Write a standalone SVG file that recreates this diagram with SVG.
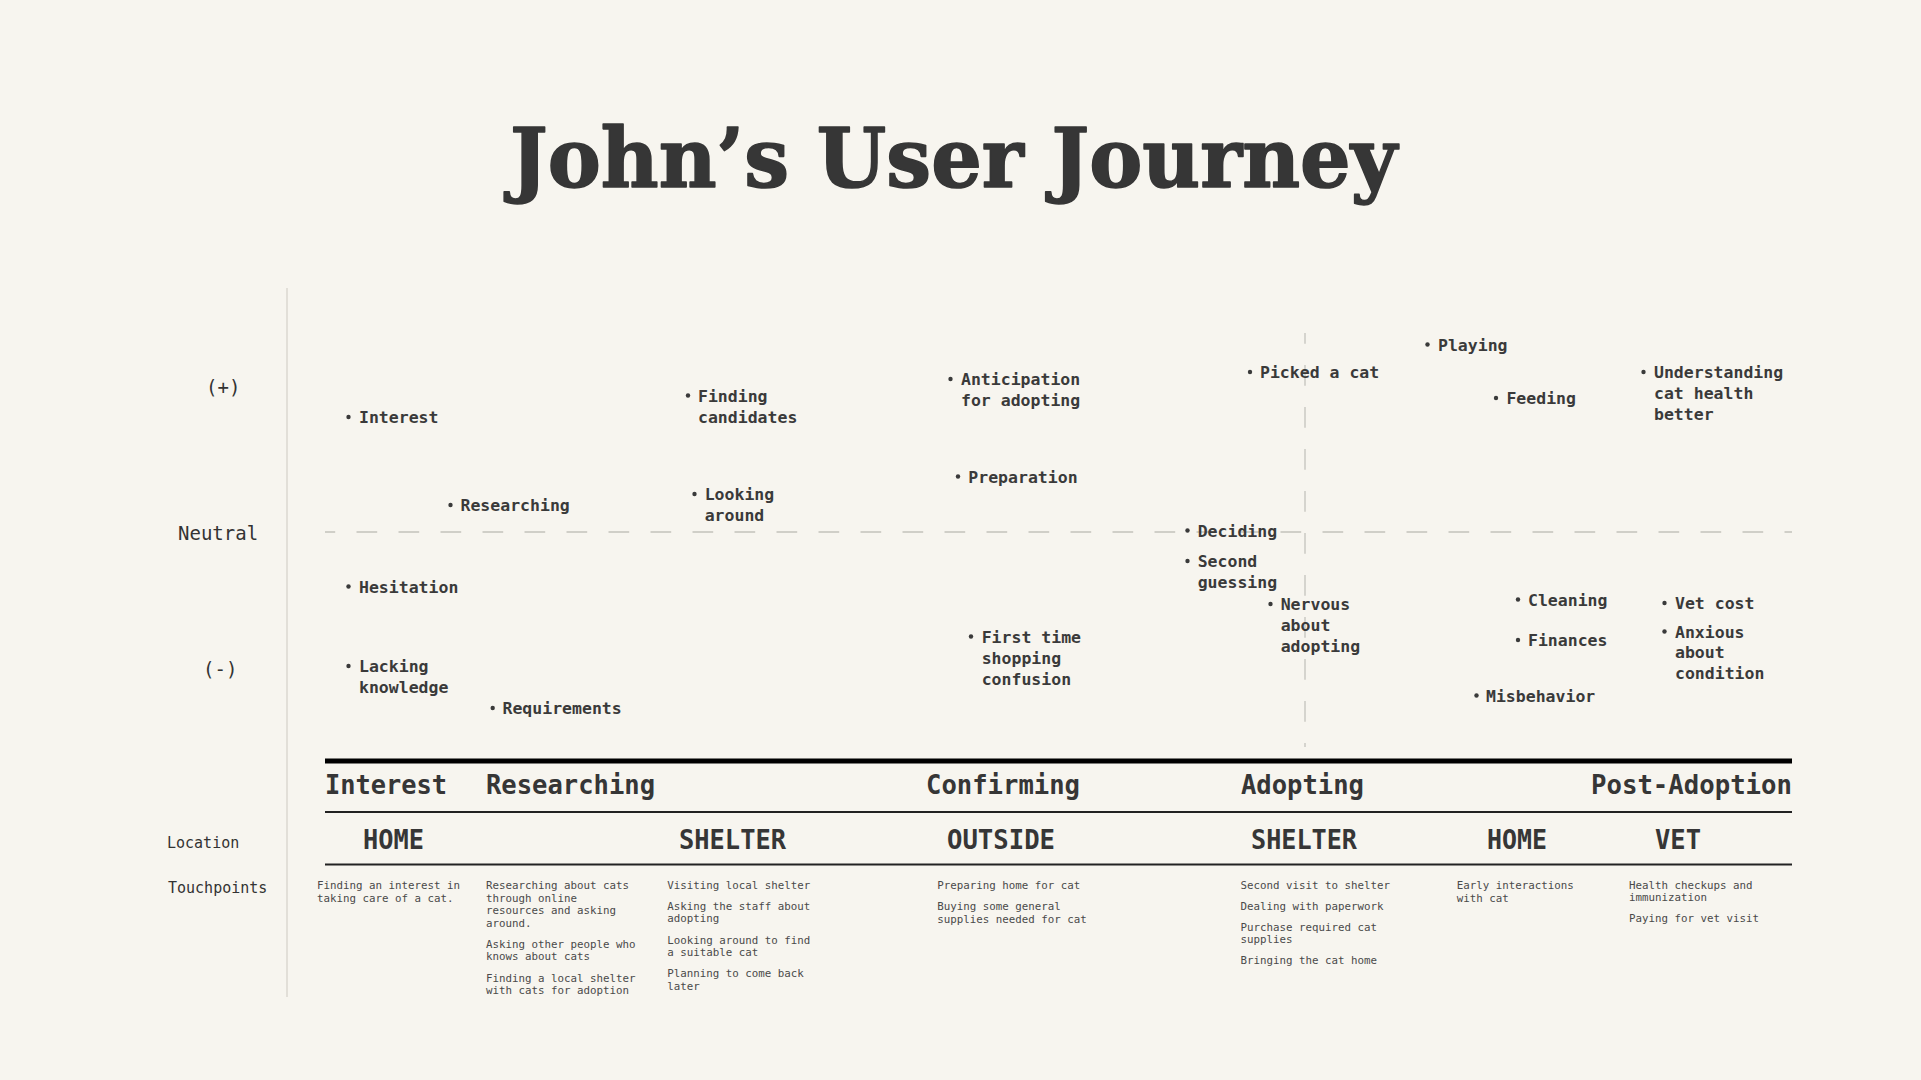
<svg xmlns="http://www.w3.org/2000/svg" width="1921" height="1080" viewBox="0 0 1921 1080">
<style>
.bg{fill:#f7f5ef}
.title{font-family:"DejaVu Serif","Liberation Serif",serif;font-weight:bold;font-size:82px;fill:#363636;stroke:#363636;stroke-width:1.6;stroke-linejoin:round}
.axis{font-family:"DejaVu Sans Mono","Liberation Mono",monospace;font-size:19px;fill:#333}
.side{font-family:"DejaVu Sans Mono","Liberation Mono",monospace;font-size:15px;fill:#333}
.lbl{font-family:"DejaVu Sans Mono","Liberation Mono",monospace;font-size:16.5px;font-weight:bold;fill:#3a3a3a}
.phase{font-family:"DejaVu Sans Mono","Liberation Mono",monospace;font-size:26px;font-weight:bold;fill:#363636}
.loc{font-family:"DejaVu Sans Mono","Liberation Mono",monospace;font-size:26px;font-weight:bold;fill:#363636}
.tp{font-family:"DejaVu Sans Mono","Liberation Mono",monospace;font-size:10.8px;fill:#4a4a4a}
.dot{fill:#3a3a3a}
.grid{stroke:#c4c2bc;stroke-width:1.3;stroke-dasharray:20.7 21.3;fill:none}
</style>
<rect class="bg" x="0" y="0" width="1921" height="1080"/>

<text id="title" class="title" x="510" y="187" textLength="887" lengthAdjust="spacingAndGlyphs">John’s User Journey</text>

<g id="axes">
  <line x1="287" y1="288" x2="287" y2="997" stroke="#e2dfd8" stroke-width="2"/>
  <line class="grid" x1="325" y1="532" x2="1792" y2="532" stroke-dashoffset="10.5"/>
  <line class="grid" x1="1305" y1="333" x2="1305" y2="747" stroke-dashoffset="10"/>
  <text class="axis" x="206" y="394">(+)</text>
  <text class="axis" x="178" y="540">Neutral</text>
  <text class="axis" x="203" y="676">(-)</text>
  <text class="side" x="167" y="848">Location</text>
  <text class="side" x="168" y="893">Touchpoints</text>
</g>

<g id="connectors">
  <line x1="325" y1="761" x2="1792" y2="761" stroke="#000" stroke-width="5"/>
  <line x1="325" y1="812" x2="1792" y2="812" stroke="#222" stroke-width="2"/>
  <line x1="325" y1="864.5" x2="1792" y2="864.5" stroke="#222" stroke-width="2"/>
</g>

<g id="emotions">
  <g id="e-interest"><circle class="dot" cx="348.5" cy="417" r="2.2"/><text class="lbl" x="359" y="423">Interest</text></g>
  <g id="e-researching"><circle class="dot" cx="450.5" cy="505" r="2.2"/><text class="lbl" x="460.5" y="511">Researching</text></g>
  <g id="e-finding"><circle class="dot" cx="688" cy="395.5" r="2.2"/><text class="lbl" x="698" y="401.7">Finding</text><text class="lbl" x="698" y="423">candidates</text></g>
  <g id="e-looking"><circle class="dot" cx="694.5" cy="494" r="2.2"/><text class="lbl" x="704.7" y="500">Looking</text><text class="lbl" x="704.7" y="521">around</text></g>
  <g id="e-hesitation"><circle class="dot" cx="348.5" cy="586.5" r="2.2"/><text class="lbl" x="359" y="592.7">Hesitation</text></g>
  <g id="e-lacking"><circle class="dot" cx="348.5" cy="666" r="2.2"/><text class="lbl" x="359" y="672.3">Lacking</text><text class="lbl" x="359" y="693">knowledge</text></g>
  <g id="e-requirements"><circle class="dot" cx="492.7" cy="708" r="2.2"/><text class="lbl" x="502.5" y="714.3">Requirements</text></g>
  <g id="e-anticipation"><circle class="dot" cx="950.5" cy="379" r="2.2"/><text class="lbl" x="961" y="385">Anticipation</text><text class="lbl" x="961" y="406">for adopting</text></g>
  <g id="e-preparation"><circle class="dot" cx="958" cy="476.5" r="2.2"/><text class="lbl" x="968.3" y="482.7">Preparation</text></g>
  <g id="e-firsttime"><circle class="dot" cx="971" cy="636.5" r="2.2"/><text class="lbl" x="981.7" y="642.7">First time</text><text class="lbl" x="981.7" y="664">shopping</text><text class="lbl" x="981.7" y="684.7">confusion</text></g>
  <g id="e-picked"><circle class="dot" cx="1250" cy="372" r="2.2"/><text class="lbl" x="1260" y="378.3">Picked a cat</text></g>
  <g id="e-deciding"><circle class="dot" cx="1187.5" cy="530.5" r="2.2"/><text class="lbl" x="1197.7" y="536.7">Deciding</text></g>
  <g id="e-second"><circle class="dot" cx="1187.5" cy="561" r="2.2"/><text class="lbl" x="1197.7" y="567.3">Second</text><text class="lbl" x="1197.7" y="588.3">guessing</text></g>
  <g id="e-nervous"><circle class="dot" cx="1270.5" cy="604" r="2.2"/><text class="lbl" x="1280.7" y="610">Nervous</text><text class="lbl" x="1280.7" y="631">about</text><text class="lbl" x="1280.7" y="652">adopting</text></g>
  <g id="e-playing"><circle class="dot" cx="1427.5" cy="344.5" r="2.2"/><text class="lbl" x="1438" y="350.7">Playing</text></g>
  <g id="e-feeding"><circle class="dot" cx="1496" cy="398" r="2.2"/><text class="lbl" x="1506.4" y="404">Feeding</text></g>
  <g id="e-understanding"><circle class="dot" cx="1643.5" cy="372" r="2.2"/><text class="lbl" x="1654" y="378.3">Understanding</text><text class="lbl" x="1654" y="399">cat health</text><text class="lbl" x="1654" y="419.7">better</text></g>
  <g id="e-cleaning"><circle class="dot" cx="1518" cy="599.5" r="2.2"/><text class="lbl" x="1528" y="605.7">Cleaning</text></g>
  <g id="e-finances"><circle class="dot" cx="1518" cy="640" r="2.2"/><text class="lbl" x="1528" y="646">Finances</text></g>
  <g id="e-misbehavior"><circle class="dot" cx="1476.5" cy="695.5" r="2.2"/><text class="lbl" x="1486" y="701.7">Misbehavior</text></g>
  <g id="e-vetcost"><circle class="dot" cx="1664.5" cy="603" r="2.2"/><text class="lbl" x="1675" y="609.3">Vet cost</text></g>
  <g id="e-anxious"><circle class="dot" cx="1664.5" cy="631.5" r="2.2"/><text class="lbl" x="1675" y="637.7">Anxious</text><text class="lbl" x="1675" y="658.3">about</text><text class="lbl" x="1675" y="679.3">condition</text></g>
</g>

<g id="phases">
  <text class="phase" x="325" y="793.5" textLength="122" lengthAdjust="spacingAndGlyphs">Interest</text>
  <text class="phase" x="486" y="793.5" textLength="169" lengthAdjust="spacingAndGlyphs">Researching</text>
  <text class="phase" x="926" y="793.5" textLength="154" lengthAdjust="spacingAndGlyphs">Confirming</text>
  <text class="phase" x="1241" y="793.5" textLength="123" lengthAdjust="spacingAndGlyphs">Adopting</text>
  <text class="phase" x="1591" y="793.5" textLength="201" lengthAdjust="spacingAndGlyphs">Post-Adoption</text>
</g>

<g id="locations">
  <text class="loc" x="363" y="849" textLength="61" lengthAdjust="spacingAndGlyphs">HOME</text>
  <text class="loc" x="679" y="849" textLength="107" lengthAdjust="spacingAndGlyphs">SHELTER</text>
  <text class="loc" x="947" y="849" textLength="108" lengthAdjust="spacingAndGlyphs">OUTSIDE</text>
  <text class="loc" x="1251" y="849" textLength="106" lengthAdjust="spacingAndGlyphs">SHELTER</text>
  <text class="loc" x="1487" y="849" textLength="60" lengthAdjust="spacingAndGlyphs">HOME</text>
  <text class="loc" x="1655" y="849" textLength="46" lengthAdjust="spacingAndGlyphs">VET</text>
</g>

<g id="touchpoints">
  <g id="tp-interest">
    <text class="tp" x="317" y="889.3">Finding an interest in</text>
    <text class="tp" x="317" y="901.8">taking care of a cat.</text>
  </g>
  <g id="tp-researching">
    <text class="tp" x="486" y="889.3">Researching about cats</text>
    <text class="tp" x="486" y="901.8">through online</text>
    <text class="tp" x="486" y="914.3">resources and asking</text>
    <text class="tp" x="486" y="926.8">around.</text>
    <text class="tp" x="486" y="947.5">Asking other people who</text>
    <text class="tp" x="486" y="960">knows about cats</text>
    <text class="tp" x="486" y="982">Finding a local shelter</text>
    <text class="tp" x="486" y="994.3">with cats for adoption</text>
  </g>
  <g id="tp-shelter">
    <text class="tp" x="667.3" y="889.3">Visiting local shelter</text>
    <text class="tp" x="667.3" y="909.8">Asking the staff about</text>
    <text class="tp" x="667.3" y="922.2">adopting</text>
    <text class="tp" x="667.3" y="943.5">Looking around to find</text>
    <text class="tp" x="667.3" y="956">a suitable cat</text>
    <text class="tp" x="667.3" y="977">Planning to come back</text>
    <text class="tp" x="667.3" y="989.5">later</text>
  </g>
  <g id="tp-confirming">
    <text class="tp" x="937.3" y="889.3">Preparing home for cat</text>
    <text class="tp" x="937.3" y="910">Buying some general</text>
    <text class="tp" x="937.3" y="922.5">supplies needed for cat</text>
  </g>
  <g id="tp-adopting">
    <text class="tp" x="1240.4" y="889.3">Second visit to shelter</text>
    <text class="tp" x="1240.4" y="910">Dealing with paperwork</text>
    <text class="tp" x="1240.4" y="930.5">Purchase required cat</text>
    <text class="tp" x="1240.4" y="943.3">supplies</text>
    <text class="tp" x="1240.4" y="964.3">Bringing the cat home</text>
  </g>
  <g id="tp-home">
    <text class="tp" x="1456.8" y="889.3">Early interactions</text>
    <text class="tp" x="1456.8" y="901.8">with cat</text>
  </g>
  <g id="tp-vet">
    <text class="tp" x="1629" y="888.5">Health checkups and</text>
    <text class="tp" x="1629" y="901">immunization</text>
    <text class="tp" x="1629" y="922">Paying for vet visit</text>
  </g>
</g>
</svg>
